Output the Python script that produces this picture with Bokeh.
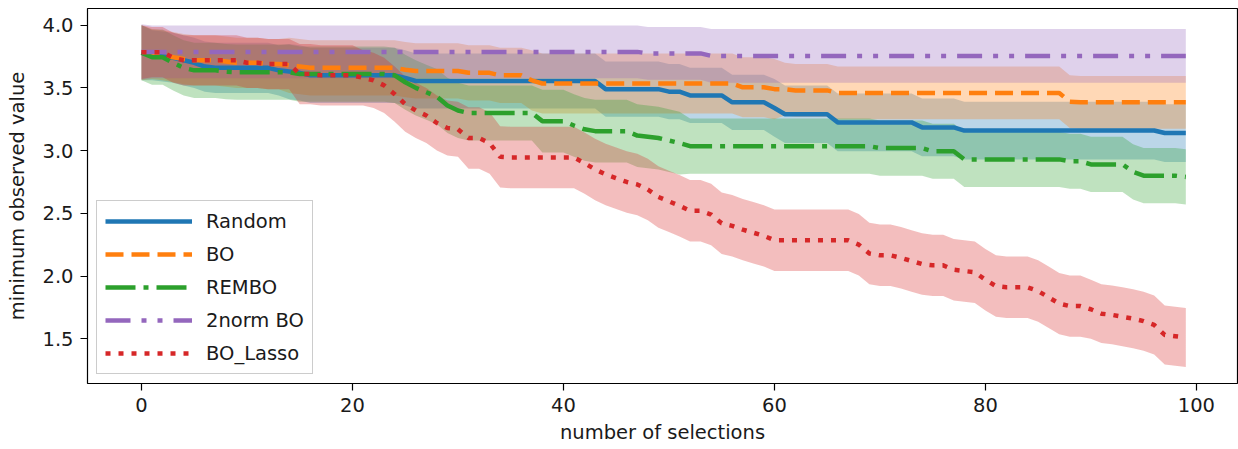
import numpy as np
from bokeh.plotting import figure
from bokeh.models import Range1d, Legend, LegendItem, ColumnDataSource, NumeralTickFormatter, FixedTicker
from bokeh.embed import file_html
from bokeh.resources import INLINE

selections = list(range(100))

series_names = ["Random", "BO", "REMBO", "2norm BO", "BO_Lasso"]

random_mean = [3.78, 3.76, 3.75, 3.74, 3.72, 3.70, 3.67, 3.66, 3.66, 3.66,
               3.66, 3.66, 3.66, 3.64, 3.63, 3.62, 3.60, 3.60, 3.60, 3.60,
               3.60, 3.60, 3.60, 3.60, 3.60, 3.58, 3.555, 3.555, 3.555, 3.555,
               3.555, 3.555, 3.555, 3.555, 3.555, 3.555, 3.555, 3.555, 3.555, 3.555,
               3.555, 3.555, 3.555, 3.555, 3.49, 3.49, 3.49, 3.49, 3.49, 3.49,
               3.47, 3.47, 3.44, 3.44, 3.44, 3.44, 3.385, 3.385, 3.385, 3.385,
               3.34, 3.29, 3.29, 3.29, 3.29, 3.29, 3.225, 3.225, 3.225, 3.225,
               3.225, 3.225, 3.225, 3.225, 3.185, 3.185, 3.185, 3.185, 3.16, 3.16,
               3.16, 3.16, 3.16, 3.16, 3.16, 3.16, 3.16, 3.16, 3.16, 3.16,
               3.16, 3.16, 3.16, 3.16, 3.16, 3.16, 3.16, 3.14, 3.14, 3.14]
random_std = [0.22, 0.20, 0.20, 0.20, 0.20, 0.20, 0.20, 0.20, 0.20, 0.20,
              0.20, 0.20, 0.20, 0.20, 0.22, 0.22, 0.22, 0.22, 0.22, 0.22,
              0.22, 0.22, 0.22, 0.22, 0.22, 0.22, 0.22, 0.22, 0.22, 0.22,
              0.22, 0.22, 0.22, 0.22, 0.22, 0.22, 0.22, 0.22, 0.22, 0.22,
              0.22, 0.22, 0.22, 0.22, 0.22, 0.22, 0.22, 0.22, 0.22, 0.22,
              0.22, 0.22, 0.22, 0.22, 0.22, 0.22, 0.22, 0.22, 0.22, 0.22,
              0.23, 0.23, 0.23, 0.23, 0.23, 0.23, 0.23, 0.23, 0.23, 0.23,
              0.23, 0.23, 0.23, 0.23, 0.23, 0.23, 0.23, 0.23, 0.23, 0.23,
              0.23, 0.23, 0.23, 0.23, 0.23, 0.23, 0.23, 0.23, 0.23, 0.23,
              0.23, 0.23, 0.23, 0.23, 0.23, 0.23, 0.23, 0.23, 0.23, 0.23]

bo_mean = [3.78, 3.77, 3.76, 3.745, 3.73, 3.72, 3.72, 3.72, 3.71, 3.70,
           3.70, 3.70, 3.69, 3.69, 3.68, 3.67, 3.66, 3.66, 3.66, 3.66,
           3.66, 3.66, 3.66, 3.66, 3.66, 3.645, 3.635, 3.635, 3.635, 3.635,
           3.635, 3.62, 3.62, 3.62, 3.60, 3.60, 3.60, 3.56, 3.535, 3.535,
           3.535, 3.535, 3.535, 3.535, 3.535, 3.535, 3.535, 3.535, 3.535, 3.535,
           3.535, 3.535, 3.535, 3.535, 3.535, 3.535, 3.535, 3.505, 3.505, 3.505,
           3.49, 3.49, 3.48, 3.48, 3.48, 3.48, 3.46, 3.46, 3.46, 3.46,
           3.46, 3.46, 3.46, 3.46, 3.46, 3.46, 3.46, 3.46, 3.46, 3.46,
           3.46, 3.46, 3.46, 3.46, 3.46, 3.46, 3.46, 3.46, 3.39, 3.385,
           3.385, 3.385, 3.385, 3.385, 3.385, 3.385, 3.385, 3.385, 3.385, 3.385]
bo_std = [0.22, 0.20, 0.20, 0.20, 0.20, 0.20, 0.20, 0.20, 0.20, 0.20,
          0.20, 0.20, 0.20, 0.20, 0.22, 0.22, 0.22, 0.22, 0.22, 0.22,
          0.22, 0.22, 0.22, 0.22, 0.22, 0.22, 0.22, 0.22, 0.22, 0.22,
          0.22, 0.22, 0.22, 0.22, 0.22, 0.22, 0.22, 0.24, 0.24, 0.24,
          0.24, 0.24, 0.24, 0.24, 0.24, 0.24, 0.24, 0.24, 0.24, 0.24,
          0.24, 0.24, 0.24, 0.24, 0.24, 0.24, 0.24, 0.24, 0.24, 0.24,
          0.24, 0.21, 0.21, 0.21, 0.21, 0.21, 0.21, 0.21, 0.21, 0.21,
          0.21, 0.21, 0.21, 0.21, 0.21, 0.21, 0.21, 0.21, 0.21, 0.21,
          0.21, 0.21, 0.21, 0.21, 0.21, 0.21, 0.21, 0.21, 0.21, 0.21,
          0.21, 0.21, 0.21, 0.21, 0.21, 0.21, 0.21, 0.21, 0.21, 0.21]

rembo_mean = [3.78, 3.745, 3.745, 3.70, 3.66, 3.64, 3.64, 3.64, 3.63, 3.625,
              3.625, 3.625, 3.625, 3.625, 3.625, 3.61, 3.61, 3.61, 3.61, 3.61,
              3.61, 3.61, 3.61, 3.61, 3.60, 3.545, 3.50, 3.465, 3.43, 3.36,
              3.32, 3.30, 3.30, 3.30, 3.30, 3.30, 3.30, 3.30, 3.235, 3.235,
              3.235, 3.20, 3.17, 3.155, 3.155, 3.155, 3.155, 3.12, 3.11, 3.10,
              3.08, 3.06, 3.035, 3.035, 3.035, 3.035, 3.035, 3.035, 3.035, 3.035,
              3.035, 3.035, 3.035, 3.035, 3.035, 3.035, 3.035, 3.035, 3.035, 3.035,
              3.02, 3.02, 3.02, 3.02, 3.02, 2.995, 2.995, 2.995, 2.93, 2.93,
              2.93, 2.93, 2.93, 2.93, 2.93, 2.93, 2.93, 2.93, 2.915, 2.915,
              2.89, 2.89, 2.89, 2.89, 2.83, 2.80, 2.80, 2.80, 2.80, 2.79]
rembo_std = [0.22, 0.22, 0.22, 0.22, 0.22, 0.22, 0.22, 0.22, 0.22, 0.22,
             0.22, 0.22, 0.22, 0.22, 0.22, 0.22, 0.22, 0.22, 0.22, 0.22,
             0.22, 0.22, 0.22, 0.22, 0.22, 0.22, 0.22, 0.22, 0.22, 0.22,
             0.22, 0.22, 0.22, 0.22, 0.22, 0.22, 0.22, 0.22, 0.25, 0.25,
             0.25, 0.25, 0.25, 0.25, 0.25, 0.25, 0.25, 0.25, 0.25, 0.25,
             0.25, 0.25, 0.22, 0.22, 0.22, 0.22, 0.22, 0.22, 0.22, 0.22,
             0.22, 0.22, 0.22, 0.22, 0.22, 0.22, 0.22, 0.22, 0.22, 0.22,
             0.22, 0.22, 0.22, 0.22, 0.22, 0.22, 0.22, 0.22, 0.22, 0.22,
             0.22, 0.22, 0.22, 0.22, 0.22, 0.22, 0.22, 0.22, 0.22, 0.22,
             0.22, 0.22, 0.22, 0.22, 0.22, 0.22, 0.22, 0.22, 0.22, 0.22]

norm2_mean = [3.787, 3.787, 3.787, 3.787, 3.787, 3.787, 3.787, 3.787, 3.787, 3.787,
              3.787, 3.787, 3.787, 3.787, 3.787, 3.787, 3.787, 3.787, 3.787, 3.787,
              3.787, 3.787, 3.787, 3.787, 3.787, 3.787, 3.787, 3.787, 3.787, 3.787,
              3.787, 3.787, 3.787, 3.787, 3.787, 3.787, 3.787, 3.787, 3.787, 3.787,
              3.787, 3.787, 3.787, 3.787, 3.787, 3.787, 3.787, 3.787, 3.775, 3.775,
              3.775, 3.775, 3.775, 3.775, 3.755, 3.755, 3.755, 3.755, 3.755, 3.755,
              3.755, 3.755, 3.755, 3.755, 3.755, 3.755, 3.755, 3.755, 3.755, 3.755,
              3.755, 3.755, 3.755, 3.755, 3.755, 3.755, 3.755, 3.755, 3.755, 3.755,
              3.755, 3.755, 3.755, 3.755, 3.755, 3.755, 3.755, 3.755, 3.755, 3.755,
              3.755, 3.755, 3.755, 3.755, 3.755, 3.755, 3.755, 3.755, 3.755, 3.755]
norm2_std = [0.22, 0.21, 0.21, 0.21, 0.21, 0.21, 0.21, 0.21, 0.21, 0.21,
             0.21, 0.21, 0.21, 0.21, 0.21, 0.21, 0.21, 0.21, 0.21, 0.21,
             0.21, 0.21, 0.21, 0.21, 0.21, 0.21, 0.21, 0.21, 0.21, 0.21,
             0.21, 0.21, 0.21, 0.21, 0.21, 0.21, 0.21, 0.21, 0.21, 0.21,
             0.21, 0.21, 0.21, 0.21, 0.21, 0.21, 0.21, 0.21, 0.21, 0.21,
             0.21, 0.21, 0.21, 0.21, 0.215, 0.215, 0.215, 0.215, 0.215, 0.215,
             0.215, 0.215, 0.215, 0.215, 0.215, 0.215, 0.215, 0.215, 0.215, 0.215,
             0.215, 0.215, 0.215, 0.215, 0.215, 0.215, 0.215, 0.215, 0.215, 0.215,
             0.215, 0.215, 0.215, 0.215, 0.215, 0.215, 0.215, 0.215, 0.215, 0.215,
             0.215, 0.215, 0.215, 0.215, 0.215, 0.215, 0.215, 0.215, 0.215, 0.215]

lasso_mean = [3.785, 3.785, 3.785, 3.74, 3.72, 3.72, 3.72, 3.72, 3.72, 3.72,
              3.70, 3.70, 3.69, 3.69, 3.69, 3.61, 3.61, 3.60, 3.60, 3.60,
              3.60, 3.58, 3.56, 3.52, 3.45, 3.37, 3.32, 3.28, 3.22, 3.18,
              3.17, 3.10, 3.10, 3.06, 2.95, 2.945, 2.945, 2.945, 2.945, 2.945,
              2.945, 2.945, 2.90, 2.85, 2.81, 2.78, 2.75, 2.73, 2.69, 2.63,
              2.595, 2.56, 2.52, 2.52, 2.49, 2.42, 2.40, 2.37, 2.345, 2.32,
              2.285, 2.285, 2.285, 2.285, 2.285, 2.285, 2.285, 2.285, 2.25, 2.18,
              2.165, 2.165, 2.145, 2.12, 2.095, 2.085, 2.085, 2.05, 2.04, 2.03,
              1.97, 1.92, 1.91, 1.91, 1.91, 1.88, 1.83, 1.78, 1.76, 1.76,
              1.735, 1.70, 1.69, 1.675, 1.66, 1.64, 1.61, 1.53, 1.52, 1.51]
lasso_std = [0.215, 0.20, 0.20, 0.20, 0.20, 0.20, 0.20, 0.20, 0.20, 0.20,
             0.20, 0.20, 0.20, 0.20, 0.20, 0.24, 0.24, 0.24, 0.24, 0.24,
             0.24, 0.22, 0.22, 0.22, 0.22, 0.22, 0.22, 0.22, 0.22, 0.22,
             0.22, 0.245, 0.245, 0.245, 0.245, 0.245, 0.245, 0.245, 0.245, 0.245,
             0.245, 0.245, 0.245, 0.245, 0.245, 0.245, 0.245, 0.245, 0.245, 0.245,
             0.245, 0.245, 0.245, 0.245, 0.245, 0.245, 0.245, 0.245, 0.245, 0.245,
             0.245, 0.245, 0.245, 0.245, 0.245, 0.245, 0.245, 0.245, 0.245, 0.245,
             0.245, 0.245, 0.245, 0.245, 0.245, 0.245, 0.245, 0.245, 0.245, 0.245,
             0.245, 0.245, 0.245, 0.245, 0.245, 0.245, 0.245, 0.245, 0.245, 0.245,
             0.235, 0.235, 0.235, 0.235, 0.235, 0.235, 0.235, 0.235, 0.235, 0.235]

x_ticks = [0, 20, 40, 60, 80, 100]
y_ticks = [1.5, 2.0, 2.5, 3.0, 3.5, 4.0]

colors = ["#1f77b4", "#ff7f0e", "#2ca02c", "#9467bd", "#d62728"]
dashes = ["solid", "18 8", "30 8 5 8", "25 11 5 11 5 11", "5 8"]
means = [random_mean, bo_mean, rembo_mean, norm2_mean, lasso_mean]
stds = [random_std, bo_std, rembo_std, norm2_std, lasso_std]

FONT = "DejaVu Sans"
TEXT = "#1a1a1a"

p = figure(width=1238, height=449, output_backend="svg", toolbar_location=None,
           x_range=Range1d(-5.12, 103.9), y_range=Range1d(1.143, 4.133),
           min_border_left=87, min_border_right=1, min_border_top=8, min_border_bottom=66)
p.xgrid.visible = False
p.ygrid.visible = False
p.outline_line_color = "black"
p.outline_line_width = 1.2
p.outline_line_alpha = 1.0
p.background_fill_color = "white"
p.border_fill_color = "white"

sources = []
for m, s in zip(means, stds):
    m_arr = np.array(m)
    s_arr = np.array(s)
    sources.append(ColumnDataSource(dict(x=selections, y=m, lo=m_arr - s_arr, hi=m_arr + s_arr)))

for src, c in zip(sources, colors):
    p.varea(x="x", y1="lo", y2="hi", source=src, fill_color=c, fill_alpha=0.3)

items = []
for src, c, d, name in zip(sources, colors, dashes, series_names):
    r = p.line(x="x", y="y", source=src, line_color=c, line_width=4.5, line_dash=d)
    items.append(LegendItem(label=name, renderers=[r]))

legend = Legend(items=items, location=(9, 9), glyph_width=87, glyph_height=24,
                label_height=24, label_standoff=14, spacing=9, padding=8, margin=0,
                border_line_color="#cccccc", border_line_width=1, border_line_alpha=1.0,
                background_fill_color="white", background_fill_alpha=0.8,
                label_text_font=FONT, label_text_font_size="19.5px", label_text_color=TEXT)
p.add_layout(legend, "center")

for ax in [p.xaxis[0], p.yaxis[0]]:
    ax.axis_line_color = None
    ax.major_tick_line_color = "black"
    ax.major_tick_line_width = 1.2
    ax.major_tick_out = 7
    ax.major_tick_in = 0
    ax.minor_tick_line_color = None
    ax.major_label_text_font = FONT
    ax.major_label_text_font_size = "19.5px"
    ax.major_label_text_color = TEXT
    ax.axis_label_text_font = FONT
    ax.axis_label_text_font_size = "19.5px"
    ax.axis_label_text_font_style = "normal"
    ax.axis_label_text_color = TEXT

p.xaxis.ticker = FixedTicker(ticks=x_ticks)
p.yaxis.ticker = FixedTicker(ticks=y_ticks)
p.yaxis.formatter = NumeralTickFormatter(format="0.0")
p.xaxis.axis_label = "number of selections"
p.yaxis.axis_label = "minimum observed value"
p.xaxis.major_label_standoff = 7
p.xaxis.axis_label_standoff = 6
p.yaxis.major_label_standoff = 7
p.yaxis.axis_label_standoff = 10

open("out.html", "w").write(file_html(p, INLINE))
